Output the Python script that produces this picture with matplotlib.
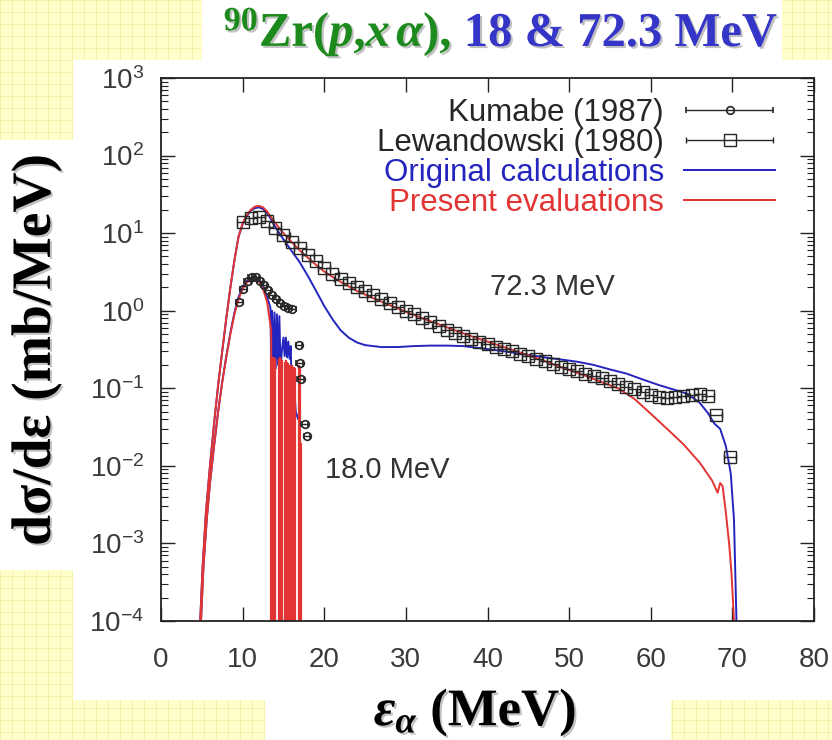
import numpy as np
import matplotlib
matplotlib.use("Agg")
import matplotlib.pyplot as plt
from matplotlib.patches import Rectangle
from matplotlib.ticker import LogLocator, NullFormatter, NullLocator
from matplotlib.container import ErrorbarContainer
from matplotlib.legend_handler import HandlerErrorbar
import matplotlib.patheffects as pe

plt.rcParams['font.family'] = ['Liberation Sans', 'DejaVu Sans']
plt.rcParams['mathtext.fontset'] = 'custom'
plt.rcParams['mathtext.rm'] = 'Liberation Serif:bold'
plt.rcParams['mathtext.it'] = 'Liberation Serif:italic:bold'
plt.rcParams['mathtext.bf'] = 'Liberation Serif:bold'
plt.rcParams['axes.unicode_minus'] = False

# ---------------- data ----------------
x_ticks = [0, 10, 20, 30, 40, 50, 60, 70, 80]

# Kumabe (1987), Ep = 18 MeV
kum_e = [9.6, 10.1, 10.6, 11.1, 11.6, 12.1, 12.6, 13.1, 13.6, 14.1, 14.6, 15.1,
         15.6, 16.1, 16.9, 17.0, 17.1, 17.6, 17.9]
kum_xs = [1.3, 1.9, 2.4, 2.7, 2.7, 2.45, 2.15, 1.85, 1.6, 1.4, 1.25, 1.15,
          1.1, 1.05, 0.36, 0.21, 0.13, 0.035, 0.024]
kum_de = 0.4

# Lewandowski (1980), Ep = 72.3 MeV
lew_e = [10, 11, 12, 13, 14, 15, 16, 17, 18, 19, 20, 21, 22, 23, 24, 25, 26, 27, 28,
         29, 30, 31, 32, 33, 34, 35, 36, 37, 38, 39, 40, 41, 42, 43, 44, 45, 46, 47,
         48, 49, 50, 51, 52, 53, 54, 55, 56, 57, 58, 59, 60, 61, 62, 63, 64, 65, 66,
         67, 68, 69.7]
lew_xs = [14.0, 15.5, 16.0, 14.5, 11.5, 9.5, 7.8, 6.4, 5.3, 4.4, 3.6, 3.0, 2.6, 2.3,
          2.0, 1.8, 1.6, 1.42, 1.26, 1.12, 1.0, 0.9, 0.8, 0.71, 0.64, 0.57, 0.52, 0.47,
          0.43, 0.40, 0.37, 0.345, 0.32, 0.30, 0.28, 0.26, 0.24, 0.225, 0.205, 0.19,
          0.175, 0.165, 0.155, 0.145, 0.135, 0.125, 0.115, 0.105, 0.097, 0.090, 0.083,
          0.078, 0.076, 0.077, 0.080, 0.083, 0.085, 0.080, 0.045, 0.013]
lew_de = 0.75

# Original calculations
orig72_e = [4.8, 5.1, 5.5, 6.0, 6.5, 7.0, 7.5, 8.0, 8.5, 9.0, 9.5, 10.0, 10.5, 11.0,
            11.5, 12.0, 12.5, 13.0, 13.5, 14.0, 15.0, 16.0, 17.0, 18.0, 19.0, 20.0,
            21.0, 22.0, 23.0, 24.0, 25.0, 27.0, 29.0, 31.0, 33.0, 35.0, 37.0, 39.0,
            41.0, 43.0, 45.0, 47.0, 49.0, 51.0, 53.0, 55.0, 57.0, 59.0, 61.0, 63.0,
            64.5, 66.0, 67.0, 67.8, 68.5, 69.2, 69.8, 70.2, 70.5]
orig72_xs = [1e-4, 5e-4, 2.5e-3, 0.01, 0.035, 0.11, 0.3, 0.8, 2.0, 4.5, 9.0, 13.0, 16.5, 19.5,
             21.0, 21.5, 20.5, 18.0, 15.0, 12.0, 8.3, 5.9, 4.2, 2.8, 1.8, 1.15,
             0.78, 0.56, 0.45, 0.39, 0.36, 0.34, 0.34, 0.35, 0.355, 0.355, 0.35, 0.33,
             0.31, 0.29, 0.27, 0.25, 0.235, 0.22, 0.20, 0.175, 0.155, 0.13, 0.11, 0.095,
             0.085, 0.065, 0.048, 0.035, 0.030, 0.018, 0.008, 0.002, 1e-4]

orig18_e = [4.9, 5.2, 5.6, 6.0, 6.5, 7.0, 7.5, 8.0, 8.5, 9.0, 9.5, 10.0, 10.5, 11.0,
            11.5, 12.0, 12.5, 13.0, 13.4, 13.5, 13.6, 13.75, 13.9, 14.05, 14.2, 14.35,
            14.5, 14.65, 14.8, 15.0, 15.15, 15.3, 15.45, 15.6, 15.75, 15.9, 16.0, 16.3,
            16.5, 16.8, 17.0, 17.2]
orig18_xs = [1e-4, 5e-4, 2e-3, 6e-3, 0.018, 0.05, 0.12, 0.26, 0.52, 0.95, 1.5, 2.0, 2.4, 2.65,
             2.75, 2.55, 2.1, 1.5, 1.1, 0.2, 1.0, 0.18, 0.95, 0.18, 0.9, 0.2,
             0.85, 0.18, 0.3, 0.45, 0.26, 0.45, 0.25, 0.4, 0.24, 0.35, 0.1, 0.12,
             0.05, 0.04, 0.045, 1e-7]

# Present evaluations
pres72_e = [4.8, 5.1, 5.5, 6.0, 6.5, 7.0, 7.5, 8.0, 8.5, 9.0, 9.5, 10.0, 10.5, 11.0,
            11.5, 12.0, 12.5, 13.0, 13.5, 14.0, 15.0, 16.0, 17.0, 18.0, 19.0, 20.0,
            22.0, 24.0, 26.0, 28.0, 30.0, 32.0, 34.0, 36.0, 38.0, 40.0, 42.0, 44.0,
            46.0, 48.0, 50.0, 52.0, 54.0, 56.0, 58.0, 60.0, 62.0, 64.0, 66.0, 67.5,
            68.2, 68.5, 68.8, 69.2, 69.6, 69.9, 70.2]
pres72_xs = [1e-4, 5e-4, 2.5e-3, 0.01, 0.035, 0.11, 0.3, 0.8, 2.0, 4.5, 9.0, 13.5, 17.0, 20.0,
             22.0, 22.5, 21.5, 19.0, 16.0, 13.5, 10.0, 7.7, 6.0, 4.8, 3.9, 3.2,
             2.35, 1.8, 1.45, 1.18, 0.97, 0.80, 0.67, 0.56, 0.47, 0.40, 0.34, 0.29,
             0.245, 0.205, 0.172, 0.145, 0.12, 0.10, 0.073, 0.047, 0.030, 0.019, 0.011, 0.0065,
             0.0045, 0.006, 0.0055, 0.0025, 0.001, 4e-4, 1e-4]

pres18_e = [4.9, 5.2, 5.6, 6.0, 6.5, 7.0, 7.5, 8.0, 8.5, 9.0, 9.5, 10.0, 10.5, 11.0,
            11.5, 12.0, 12.5, 13.0, 13.5, 13.6]
pres18_xs = [1e-4, 5e-4, 2e-3, 6e-3, 0.018, 0.05, 0.12, 0.25, 0.5, 0.9, 1.4, 1.9, 2.3, 2.55,
             2.6, 2.4, 1.9, 1.3, 0.55, 1e-7]

# discrete residual levels of the present evaluation at 18 MeV
pres18_lvl_e = [13.5, 13.65, 13.8, 13.95, 14.4, 14.55, 14.7, 14.85, 15.15, 15.3, 15.45, 15.6,
                15.85, 16.0, 16.15, 16.3, 16.45, 16.9, 17.05, 17.2]
pres18_lvl_xs = [0.26, 0.25, 0.25, 0.24, 0.24, 0.25, 0.24, 0.23, 0.22, 0.23, 0.22, 0.21,
                 0.2, 0.2, 0.19, 0.19, 0.18, 0.2, 0.18, 0.02]

# ---------------- figure ----------------
W, H = 832, 740
fig = plt.figure(figsize=(W / 100, H / 100), dpi=100)

# slide background: pale yellow grid with white panels
bg = fig.add_axes([0, 0, 1, 1], zorder=0)
bg.set_axis_off()
tex = np.empty((H, W, 3))
tex[:] = np.array([255, 255, 204]) / 255
line_col = np.array([246, 240, 172]) / 255
tex[::12, :, :] = line_col
tex[:, ::12, :] = line_col
bg.imshow(tex, extent=(0, W, 0, H), origin='upper', aspect='auto', interpolation='nearest')
bg.set_xlim(0, W)
bg.set_ylim(0, H)


def white_box(x0, y0, x1, y1):
    bg.add_patch(Rectangle((x0, H - y1), x1 - x0, y1 - y0,
                           facecolor='white', edgecolor='none'))


white_box(73, 60, W, 700)
white_box(202, 0, 782, 60)
white_box(0, 140, 73, 570)
white_box(265, 700, 671, 740)

ax = fig.add_axes([161 / W, 1 - 621 / H, (814 - 161) / W, (621 - 78) / H], zorder=2)
ax.set_facecolor('white')

BLUE = '#2424BE'
RED = '#E33434'
DARK = '#262626'

ax.set_xlim(0, 80)
ax.set_yscale('log')
ax.set_ylim(1e-4, 1e3)
ymin = ax.get_ylim()[0]

ax.plot(orig72_e, orig72_xs, color=BLUE, lw=1.4, zorder=2, label='Original calculations')
ax.plot(orig18_e, orig18_xs, color=BLUE, lw=1.4, zorder=2)
ax.plot(pres72_e, pres72_xs, color=RED, lw=1.4, zorder=2.2, label='Present evaluations')
ax.plot(pres18_e, pres18_xs, color=RED, lw=1.4, zorder=2.2)
ax.vlines(pres18_lvl_e, ymin, pres18_lvl_xs, color=RED, lw=1.6, zorder=2.2)

h_kum = ax.errorbar(kum_e, kum_xs, xerr=kum_de, fmt='o', ms=5.5, mfc='none', mec=DARK,
                    mew=1.2, ecolor=DARK, elinewidth=1.0, capsize=2.5, zorder=3,
                    label='Kumabe (1987)')
h_lew = ax.errorbar(lew_e, lew_xs, xerr=lew_de, fmt='s', ms=8.5, mfc='none', mec=DARK,
                    mew=1.0, ecolor=DARK, elinewidth=1.0, capsize=2.5, zorder=3,
                    label='Lewandowski (1980)')

ax.set_xticks(x_ticks)
ax.xaxis.set_minor_locator(NullLocator())
ax.yaxis.set_major_locator(LogLocator(base=10, numticks=20))
ax.yaxis.set_minor_locator(LogLocator(base=10, subs=np.arange(2, 10), numticks=20))
ax.yaxis.set_minor_formatter(NullFormatter())
ax.tick_params(which='both', direction='in', top=True, right=True, color='#222222')
ax.tick_params(which='major', length=10, width=1.0, labelsize=20, labelcolor='#3a3a3a')
ax.tick_params(which='minor', length=5, width=0.8)
ax.tick_params(axis='x', pad=19)
ax.tick_params(axis='y', pad=12)
for s in ax.spines.values():
    s.set_linewidth(1.3)
    s.set_color('#222222')

ax.text(40.3, 2.03, '72.3 MeV', fontsize=21, color='#333333', ha='left', va='center')
ax.text(20.1, 0.0089, '18.0 MeV', fontsize=21, color='#333333', ha='left', va='center')

handles = [h_kum, h_lew, ax.lines[0], ax.lines[2]]
labels = ['Kumabe (1987)', 'Lewandowski (1980)', 'Original calculations', 'Present evaluations']
leg = ax.legend(handles, labels, loc='upper right',
                bbox_to_anchor=((775 - 161) / 653, (621 - 98) / 543),
                frameon=False, markerfirst=False, fontsize=22.5, handlelength=2.9,
                handletextpad=0.65, labelspacing=0.0, borderpad=0, borderaxespad=0,
                numpoints=1,
                handler_map={ErrorbarContainer: HandlerErrorbar(xerr_size=1.4)})
for txt, c in zip(leg.get_texts(), [DARK, DARK, BLUE, RED]):
    txt.set_color(c)

# ---------------- titles and axis labels ----------------
shadow = [pe.SimplePatchShadow(offset=(1.5, -1.5), shadow_rgbFace='#777777', alpha=0.45), pe.Normal()]
serif = dict(fontfamily='Liberation Serif', fontweight='bold')

renderer = fig.canvas.get_renderer()
GREEN = '#1C8A1C'
TBLUE = '#3535C8'
t1 = fig.text(0, 0, r'$^{90}$Zr($p$,$x\,\alpha$),', color=GREEN, fontsize=35, **serif)
t2 = fig.text(0, 0, ' 18 & 72.3 MeV', color=TBLUE, fontsize=35, **serif)
w1 = t1.get_window_extent(renderer).width
w2 = t2.get_window_extent(renderer).width
x0 = 500 - (w1 + w2) / 2
ybase = 1 - 46 / H
t1.set_position((x0 / W, ybase))
t2.set_position(((x0 + w1) / W, ybase))
for t in (t1, t2):
    t.set_va('baseline')
    t.set_path_effects(shadow)

fig.text(36 / W, 1 - 350 / H, 'dσ/dε (mb/MeV)', rotation=90, ha='center', va='center',
         fontsize=40, color='black', path_effects=shadow, **serif)
fig.text(475 / W, 1 - 713 / H, r'$\varepsilon_{\alpha}$ (MeV)', ha='center', va='center',
         fontsize=38, color='black', path_effects=shadow, **serif)

fig.savefig('out.png', dpi=100)
